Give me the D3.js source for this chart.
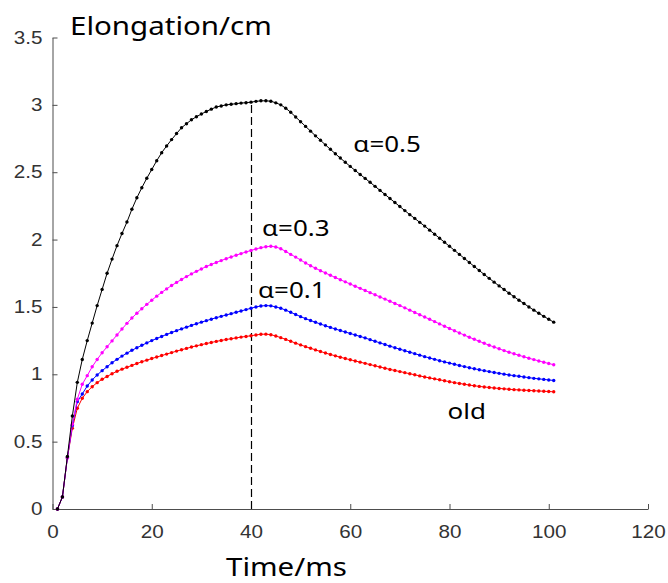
<!DOCTYPE html>
<html>
<head>
<meta charset="utf-8">
<script src="https://cdn.jsdelivr.net/npm/d3@7"></script>
<style>
    body { margin: 0; background: #fff; }
    .axis .tick text { font-family: "Liberation Sans", Arial, sans-serif; font-size: 17.5px; fill: #333; }
    .axis .domain, .axis .tick line { stroke: #4d4d4d; }
    .label { font-family: "Noto Sans", sans-serif; fill: #000; }
</style>
</head>
<body>
<div class="chart"></div>
<script>
// time steps in ms
const time = d3.range(1, 102);

// elongation (cm) per time step
const alpha05 = [
    0, 0.09, 0.39, 0.69, 0.94, 1.11, 1.25, 1.38, 1.51, 1.63,
    1.75, 1.855, 1.955, 2.045, 2.13, 2.225, 2.31, 2.385, 2.455, 2.52,
    2.585, 2.645, 2.695, 2.742, 2.787, 2.83, 2.86, 2.889, 2.912, 2.932,
    2.951, 2.968, 2.984, 2.992, 3.0, 3.004, 3.009, 3.013, 3.016, 3.02,
    3.026, 3.03, 3.03, 3.027, 3.015, 3.0, 2.975, 2.945, 2.91, 2.875,
    2.84, 2.805, 2.77, 2.737, 2.703, 2.67, 2.637, 2.605, 2.574, 2.543,
    2.513, 2.483, 2.454, 2.425, 2.395, 2.365, 2.335, 2.305, 2.275, 2.245,
    2.215, 2.185, 2.157, 2.128, 2.1, 2.07, 2.04, 2.01, 1.98, 1.95,
    1.92, 1.89, 1.86, 1.83, 1.8, 1.77, 1.741, 1.712, 1.684, 1.656,
    1.629, 1.602, 1.576, 1.55, 1.525, 1.5, 1.476, 1.453, 1.43, 1.408,
    1.387
];
const alpha03 = [
    0, 0.09, 0.38, 0.63, 0.815, 0.926, 0.99, 1.056, 1.11, 1.16,
    1.204, 1.248, 1.292, 1.336, 1.378, 1.418, 1.453, 1.487, 1.519, 1.55,
    1.58, 1.608, 1.634, 1.659, 1.682, 1.704, 1.725, 1.745, 1.764, 1.782,
    1.8, 1.815, 1.83, 1.844, 1.858, 1.871, 1.884, 1.896, 1.908, 1.919,
    1.93, 1.94, 1.947, 1.95, 1.945, 1.932, 1.912, 1.89, 1.87, 1.848,
    1.826, 1.806, 1.787, 1.769, 1.752, 1.735, 1.718, 1.702, 1.686, 1.67,
    1.654, 1.638, 1.622, 1.606, 1.59, 1.574, 1.558, 1.542, 1.526, 1.51,
    1.493, 1.476, 1.459, 1.442, 1.425, 1.408, 1.391, 1.374, 1.357, 1.34,
    1.323, 1.307, 1.291, 1.275, 1.26, 1.245, 1.23, 1.216, 1.202, 1.189,
    1.176, 1.164, 1.152, 1.141, 1.13, 1.119, 1.109, 1.099, 1.089, 1.08,
    1.071
];
const alpha01 = [
    0, 0.09, 0.38, 0.62, 0.797, 0.854, 0.913, 0.958, 0.995, 1.027,
    1.056, 1.086, 1.111, 1.135, 1.157, 1.178, 1.197, 1.215, 1.233, 1.25,
    1.266, 1.281, 1.296, 1.31, 1.324, 1.337, 1.35, 1.363, 1.375, 1.387,
    1.398, 1.409, 1.42, 1.43, 1.44, 1.45, 1.46, 1.47, 1.48, 1.49,
    1.5, 1.507, 1.51, 1.508, 1.5, 1.49, 1.476, 1.46, 1.444, 1.428,
    1.413, 1.399, 1.386, 1.373, 1.36, 1.348, 1.336, 1.325, 1.314, 1.303,
    1.292, 1.281, 1.27, 1.257, 1.245, 1.233, 1.221, 1.209, 1.197, 1.186,
    1.175, 1.164, 1.153, 1.142, 1.131, 1.121, 1.111, 1.101, 1.092, 1.083,
    1.074, 1.065, 1.057, 1.049, 1.041, 1.034, 1.027, 1.02, 1.013, 1.007,
    1.001, 0.995, 0.99, 0.985, 0.98, 0.975, 0.97, 0.966, 0.962, 0.958,
    0.954
];
const oldModel = [
    0, 0.09, 0.38, 0.6, 0.748, 0.822, 0.871, 0.908, 0.938, 0.963,
    0.984, 1.004, 1.022, 1.038, 1.052, 1.066, 1.08, 1.093, 1.105, 1.117,
    1.128, 1.139, 1.15, 1.161, 1.172, 1.182, 1.192, 1.202, 1.211, 1.22,
    1.228, 1.236, 1.244, 1.251, 1.258, 1.264, 1.27, 1.276, 1.281, 1.286,
    1.292, 1.297, 1.298, 1.294, 1.284, 1.272, 1.259, 1.245, 1.231, 1.218,
    1.205, 1.193, 1.181, 1.169, 1.158, 1.147, 1.137, 1.127, 1.117, 1.108,
    1.099, 1.09, 1.081, 1.072, 1.063, 1.054, 1.045, 1.036, 1.028, 1.02,
    1.012, 1.004, 0.996, 0.988, 0.98, 0.973, 0.966, 0.959, 0.952, 0.945,
    0.938, 0.932, 0.926, 0.92, 0.915, 0.91, 0.906, 0.902, 0.898, 0.895,
    0.892, 0.889, 0.886, 0.884, 0.882, 0.88, 0.878, 0.876, 0.874, 0.872,
    0.87
];

const xTicks = [0, 20, 40, 60, 80, 100, 120];
const yTicks = [0, 0.5, 1, 1.5, 2, 2.5, 3, 3.5];

// curve labels, anchored in data units (time, elongation)
const labelTexts = ['\u03b1=0.5', '\u03b1=0.3', '\u03b1=0.1', 'old'];
const labelTimes = [60.6, 42.2, 41.4, 79.6];
const labelValues = [2.648, 2.03, 1.568, 0.667];

// dashed marker at end of loading
const markTime = 40;
const markValue = 3.02;

class ElongationChart {
    constructor() {
        this.container = document.querySelector('.chart');
        this.width = 668;
        this.height = 583;
        this.stretch = 1.18;

        this.series = [
            { values: oldModel, color: '#ff0000' },
            { values: alpha01, color: '#0000ff' },
            { values: alpha03, color: '#ff00ff' },
            { values: alpha05, color: '#000000' },
        ];

        this.appendSVG();
        this.scales();
        this.addXAxis();
        this.addYAxis();
        this.addMarker();
        this.series.forEach((s) => this.addSeries(s));
        this.addLabels();
    }

    appendSVG() {
        this.svg = d3.select(this.container)
            .append('svg')
            .attr('width', this.width)
            .attr('height', this.height);
    }

    scales() {
        this.x = d3.scaleLinear().domain([0, 120]).range([52.5, 648]);
        this.y = d3.scaleLinear().domain([0, 3.5]).range([509, 37.5]);
    }

    addXAxis() {
        const g = this.svg.append('g')
            .attr('class', 'axis x-axis')
            .attr('transform', `translate(0,${this.y(0)})`)
            .call(d3.axisBottom(this.x)
                .tickValues(xTicks)
                .tickFormat(d3.format('d'))
                .tickSizeInner(-5)
                .tickSizeOuter(0)
                .tickPadding(17));
        g.selectAll('.tick text').attr('transform', `scale(${this.stretch},1)`);
    }

    addYAxis() {
        const g = this.svg.append('g')
            .attr('class', 'axis y-axis')
            .attr('transform', `translate(${this.x(0)},0)`)
            .call(d3.axisLeft(this.y)
                .tickValues(yTicks)
                .tickFormat((d) => String(d))
                .tickSizeInner(-5)
                .tickSizeOuter(0)
                .tickPadding(10));
        g.selectAll('.tick text')
            .attr('x', -10 / this.stretch)
            .attr('transform', `scale(${this.stretch},1)`);
    }

    addMarker() {
        // half pixel offset keeps the dashes sharp
        const xm = Math.round(this.x(markTime)) + 0.5;
        this.svg.append('line')
            .attr('x1', xm)
            .attr('x2', xm)
            .attr('y1', this.y(0))
            .attr('y2', this.y(markValue))
            .style('stroke', '#000')
            .style('stroke-width', 1.2)
            .style('stroke-dasharray', '8,4');
    }

    addSeries(s) {
        const data = time.map((t, i) => ({ t, v: s.values[i] }));
        const line = d3.line()
            .x((d) => this.x(d.t))
            .y((d) => this.y(d.v));

        const g = this.svg.append('g');
        g.append('path')
            .datum(data)
            .attr('d', line)
            .style('fill', 'none')
            .style('stroke', s.color)
            .style('stroke-width', 1);
        g.selectAll('circle')
            .data(data)
            .enter()
            .append('circle')
            .attr('cx', (d) => this.x(d.t))
            .attr('cy', (d) => this.y(d.v))
            .attr('r', 1.7)
            .style('fill', s.color);
    }

    text(x, y, str, size, anchor) {
        this.svg.append('text')
            .attr('class', 'label')
            .attr('transform', `translate(${x},${y}) scale(${this.stretch},1)`)
            .style('font-size', `${size}px`)
            .style('text-anchor', anchor || 'start')
            .text(str);
    }

    addLabels() {
        labelTexts.forEach((str, i) => {
            this.text(this.x(labelTimes[i]), this.y(labelValues[i]), str, 22);
        });
        this.text(70, 35, 'Elongation/cm', 25);
        this.text(226, 576, 'Time/ms', 25);
    }
}

new ElongationChart();
</script>
</body>
</html>
